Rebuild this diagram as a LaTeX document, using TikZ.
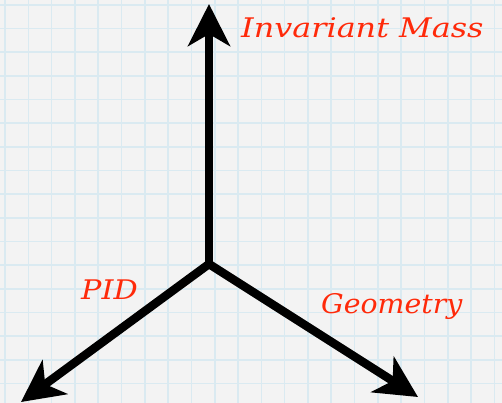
\documentclass[tikz,border=0pt]{standalone}
\usepackage{fontspec}
\newfontfamily\handfont{DejaVu Serif}
\usepackage{tikz}
\usetikzlibrary{arrows.meta}
\definecolor{paper}{HTML}{F3F3F3}
\definecolor{gridblue}{HTML}{DAEAF1}
\definecolor{hand}{HTML}{FF2A0A}
\tikzset{
  axis/.style  = {line width=8.5pt, black,
                  -{Stealth[length=42pt, width=42pt, inset=12pt]}},
  lab/.style   = {text=hand, font=\handfont\fontsize{27}{27}\selectfont\itshape,
                  inner sep=0pt},
}
\begin{document}
\begin{tikzpicture}[x=1pt, y=-1pt]

% ===== paper =====
\fill[paper] (0,0) rectangle (502,403);
\useasboundingbox (0,0) rectangle (502,403);
\foreach \k in {0,...,21}{
  \draw[gridblue, line width=1.6pt] (5+23.3*\k,0) -- (5+23.3*\k,403);
}
\foreach \k in {0,...,17}{
  \draw[gridblue, line width=1.6pt] (0,5+23.65*\k) -- (502,5+23.65*\k);
}

% ===== axes =====
\coordinate (o)    at (209,264);
\coordinate (mass) at (209,4);
\coordinate (pid)  at (21,402);
\coordinate (geo)  at (418,397);

\draw[axis] (o) -- (mass);
\draw[axis] (o) -- (pid);
\draw[axis] (o) -- (geo);
\fill (o) circle (4.2pt);

% ===== labels =====
\node[lab, anchor=base west, xscale=1.18] (massl) at (241,38) {Invariant Mass};
\node[lab, anchor=base west, xscale=1.12] (pidl) at (81,299) {PID};
\node[lab, anchor=base west, xscale=1.05] (geol) at (321,313) {Geometry};
\end{tikzpicture}
\end{document}
